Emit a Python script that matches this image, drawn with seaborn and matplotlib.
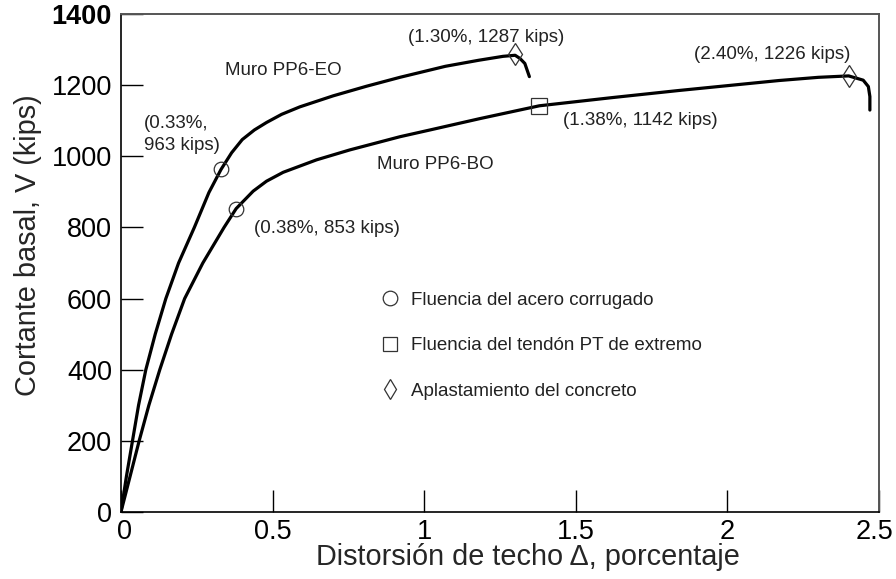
import matplotlib
matplotlib.use("Agg")
import matplotlib.pyplot as plt
from matplotlib.lines import Line2D
from matplotlib.transforms import ScaledTranslation
import seaborn as sns
import pandas as pd

# Pushover curves: roof drift (%) vs base shear (kips)
eo_drift = [0, 0.018, 0.038, 0.058, 0.082, 0.113, 0.148, 0.19, 0.242, 0.29,
            0.33, 0.365, 0.40, 0.44, 0.48, 0.53, 0.59, 0.70, 0.81, 0.92,
            1.07, 1.18, 1.26, 1.30, 1.316, 1.332, 1.347]
eo_shear = [0, 100, 200, 300, 400, 500, 600, 700, 800, 898,
            963, 1010, 1047, 1074, 1095, 1118, 1139, 1170, 1197, 1222,
            1253, 1270, 1281, 1284, 1275, 1261, 1224]

bo_drift = [0, 0.03, 0.06, 0.092, 0.128, 0.167, 0.21, 0.27, 0.34, 0.38,
            0.436, 0.48, 0.535, 0.645, 0.755, 0.92, 1.019, 1.184, 1.38, 1.62,
            1.84, 2.17, 2.30, 2.40, 2.448, 2.465, 2.47, 2.47]
bo_shear = [0, 100, 200, 300, 400, 500, 600, 700, 800, 853,
            902, 930, 955, 990, 1018, 1055, 1074, 1106, 1142, 1165,
            1185, 1213, 1222, 1226, 1214, 1196, 1168, 1130]

# Limit-state events
yield_drift = [0.33, 0.38]
yield_shear = [963, 853]
tendon_drift = [1.38]
tendon_shear = [1142]
crush_drift = [1.30, 2.40]
crush_shear = [1287, 1226]

x_ticks = [0, 0.5, 1, 1.5, 2, 2.5]
x_tick_labels = ["0", "0.5", "1", "1.5", "2", "2.5"]
y_ticks = [0, 200, 400, 600, 800, 1000, 1200, 1400]

legend_labels = ["Fluencia del acero corrugado",
                 "Fluencia del tendón PT de extremo",
                 "Aplastamiento del concreto"]

curves = pd.concat([
    pd.DataFrame({"drift": eo_drift, "shear": eo_shear, "muro": "PP6-EO"}),
    pd.DataFrame({"drift": bo_drift, "shear": bo_shear, "muro": "PP6-BO"}),
])

sns.set_style("white")
plt.rcParams["font.family"] = ["Liberation Sans", "DejaVu Sans"]

fig = plt.figure(figsize=(8.96, 5.79), dpi=100)
ax = fig.add_axes([0.135, 0.1157, 0.846, 0.8601])

sns.lineplot(data=curves, x="drift", y="shear", units="muro", estimator=None,
             sort=False, color="black", linewidth=2.3, ax=ax, legend=False)

mk = dict(linestyle="none", markerfacecolor="none", markeredgecolor="#333333",
          markeredgewidth=0.9, zorder=5)
ax.plot(yield_drift, yield_shear, marker="o", markersize=10.5, **mk)
ax.plot(tendon_drift, tendon_shear, marker="s", markersize=11, **mk)
ax.plot(crush_drift, crush_shear, marker="d", markersize=11.7, **mk)

txt = dict(fontsize=13.5, color="#222222")
ax.text(0.076, 1061, "(0.33%,\n963 kips)", ha="left", va="center",
        linespacing=1.35, **txt)
ax.text(0.439, 798, "(0.38%, 853 kips)", ha="left", va="center", **txt)
ax.text(1.204, 1335, "(1.30%, 1287 kips)", ha="center", va="center", **txt)
ax.text(2.147, 1285, "(2.40%, 1226 kips)", ha="center", va="center", **txt)
ax.text(1.457, 1102, "(1.38%, 1142 kips)", ha="left", va="center", **txt)
ax.text(0.535, 1240, "Muro PP6-EO", ha="center", va="center", **txt)
ax.text(1.037, 976, "Muro PP6-BO", ha="center", va="center", **txt)

handles = [
    Line2D([], [], marker="o", markersize=10.5, **mk),
    Line2D([], [], marker="s", markersize=10.5, **mk),
    Line2D([], [], marker="d", markersize=10.2, **mk),
]
ax.legend(handles, legend_labels, loc="upper left", bbox_to_anchor=(0.343, 0.443),
          frameon=False, fontsize=13.5, handlelength=0.95, handletextpad=0.65,
          labelspacing=1.52, borderpad=0, borderaxespad=0,
          labelcolor="#222222")

ax.set_xlim(0, 2.5)
ax.set_ylim(0, 1400)
ax.set_xticks(x_ticks)
ax.set_xticklabels(x_tick_labels)
ax.set_yticks(y_ticks)
ax.tick_params(axis="both", direction="in", length=16, width=1.0,
               labelsize=19.5, colors="black", bottom=True, left=True,
               top=False, right=False)
ax.tick_params(axis="x", pad=5)
ax.tick_params(axis="y", pad=6.5)
ax.get_yticklabels()[-1].set_fontweight("bold")

# nudge the end labels of the drift axis inward
xlabels = ax.get_xticklabels()
xlabels[0].set_transform(xlabels[0].get_transform()
                         + ScaledTranslation(4 / 100, 0, fig.dpi_scale_trans))
xlabels[-1].set_transform(xlabels[-1].get_transform()
                          + ScaledTranslation(-4 / 100, 0, fig.dpi_scale_trans))

ax.set_xlabel("Distorsión de techo Δ, porcentaje", fontsize=20.8, va="center")
ax.set_ylabel("Cortante basal, V (kips)", fontsize=20.8, va="center")
ax.xaxis.set_label_coords(0.537, -0.09)
ax.yaxis.set_label_coords(-0.123, 0.536)

for side in ["left", "bottom"]:
    ax.spines[side].set_color("black")
    ax.spines[side].set_linewidth(1.2)
for side in ["top", "right"]:
    ax.spines[side].set_color("#555555")
    ax.spines[side].set_linewidth(1.4)

fig.savefig("out.png", dpi=100)
